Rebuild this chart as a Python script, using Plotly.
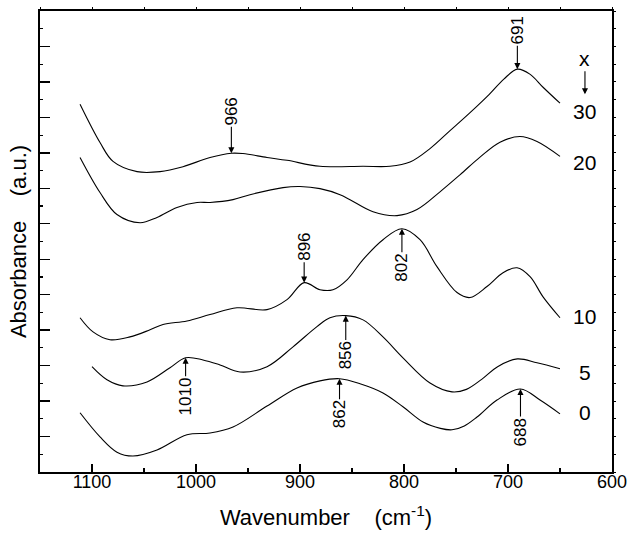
import plotly.graph_objects as go

# ---- data (wavenumber cm-1, absorbance a.u. offset) ----
wn_30 = [1111.5, 1092.3, 1079.8, 1056.7, 1034.6, 1012.5, 986.5, 966.0, 954.8, 931.7,
         912.5, 880.8, 839.4, 813.5, 794.2, 775.0, 756.0, 737.0, 718.0, 704.0,
         691.0, 679.0, 666.3, 650.0]
abs_30 = [10.37, 9.29, 8.76, 8.47, 8.47, 8.61, 8.87, 8.99, 8.98, 8.87,
          8.79, 8.62, 8.62, 8.62, 8.74, 9.12, 9.62, 10.12, 10.65, 11.08,
          11.36, 11.22, 10.85, 10.40]

wn_20 = [1111.5, 1092.3, 1076.0, 1053.8, 1037.5, 1018.3, 999.0, 986.5, 964.4, 948.1,
         916.3, 900.0, 880.8, 861.5, 851.9, 829.8, 806.7, 787.5, 765.4, 746.2,
         726.9, 707.7, 688.5, 672.1, 650.0]
abs_20 = [8.87, 7.88, 7.26, 7.03, 7.18, 7.46, 7.60, 7.60, 7.68, 7.82,
          8.02, 8.05, 7.99, 7.82, 7.68, 7.34, 7.23, 7.40, 7.90, 8.38,
          8.88, 9.30, 9.46, 9.32, 8.90]

wn_10 = [1111.5, 1099.0, 1082.7, 1063.5, 1044.2, 1031.7, 1008.7, 986.5, 960.6, 931.7,
         912.5, 896.0, 880.8, 868.3, 854.8, 839.4, 820.2, 802.0, 784.6, 768.3,
         749.0, 736.5, 720.2, 704.8, 691.3, 678.8, 666.3, 650.0]
abs_10 = [4.35, 3.95, 3.73, 3.81, 4.01, 4.16, 4.26, 4.44, 4.63, 4.58,
          4.86, 5.34, 5.14, 5.14, 5.42, 5.99, 6.55, 6.86, 6.55, 5.79,
          5.06, 4.92, 5.23, 5.62, 5.76, 5.51, 4.94, 4.35]

wn_5 = [1100.0, 1085.6, 1070.2, 1047.1, 1025.0, 1010.0, 993.3, 976.9, 957.7, 931.7,
        906.7, 883.7, 871.2, 856.0, 839.4, 820.2, 801.0, 775.0, 753.8, 740.0,
        725.0, 710.0, 691.0, 672.1, 650.0]
abs_5 = [2.97, 2.60, 2.43, 2.54, 2.94, 3.22, 3.16, 3.02, 2.82, 2.97,
         3.53, 4.10, 4.35, 4.41, 4.29, 3.81, 3.22, 2.51, 2.26, 2.33,
         2.62, 2.97, 3.19, 3.08, 2.91]

wn_0 = [1111.5, 1092.3, 1076.0, 1060.6, 1037.5, 1008.7, 986.5, 964.4, 931.7, 902.9,
        880.8, 862.0, 842.3, 820.2, 801.0, 781.7, 765.0, 753.8, 742.0, 729.8,
        710.6, 688.0, 669.2, 650.0]
abs_0 = [1.67, 0.99, 0.56, 0.45, 0.62, 1.05, 1.10, 1.27, 1.86, 2.37,
         2.57, 2.63, 2.49, 2.23, 1.84, 1.41, 1.23, 1.19, 1.30, 1.55,
         2.03, 2.34, 2.03, 1.64]

series_labels = ["30", "20", "10", "5", "0"]
label_y = [10.17, 8.73, 4.38, 2.82, 1.67]
label_x = 626

# peak annotations: label, wavenumber, absorbance, pixel offset of the text
peak_labels = ["966", "691", "896", "802", "1010", "856", "862", "688"]
peak_x = [966, 691, 896, 802, 1010, 856, 862, 688]
peak_y = [8.99, 11.36, 5.34, 6.86, 3.22, 4.41, 2.63, 2.34]
peak_ay = [-42, -39, -36, 39, 39, 40, 36, 43]

FONT = "Liberation Sans, Arial, Helvetica, sans-serif"

fig = go.Figure()
for wn, ab, name in [(wn_30, abs_30, "30"), (wn_20, abs_20, "20"), (wn_10, abs_10, "10"),
                     (wn_5, abs_5, "5"), (wn_0, abs_0, "0")]:
    fig.add_trace(go.Scatter(x=wn, y=ab, mode="lines", name=name,
                             line=dict(color="black", width=1.1, shape="spline", smoothing=1.0),
                             showlegend=False, hoverinfo="skip"))

# dummy trace so that the mirrored top/right tick axes get drawn
fig.add_trace(go.Scatter(x=[None], y=[None], xaxis="x2", yaxis="y2",
                         showlegend=False, hoverinfo="skip"))

annotations = []
for t, x, y, ay in zip(peak_labels, peak_x, peak_y, peak_ay):
    annotations.append(dict(x=x, y=y, xref="x", yref="y", text=t, textangle=-90,
                            showarrow=True, arrowhead=2, arrowsize=1.1, arrowwidth=1.1,
                            arrowcolor="black", ax=0, ay=ay, standoff=0,
                            font=dict(family=FONT, size=17, color="black")))
for t, y in zip(series_labels, label_y):
    annotations.append(dict(x=label_x, y=y, xref="x", yref="y", text=t, showarrow=False,
                            font=dict(family=FONT, size=21, color="black")))
annotations.append(dict(x=label_x, y=10.65, xref="x", yref="y", text="x",
                        showarrow=True, arrowhead=2, arrowsize=1.1, arrowwidth=1.1,
                        arrowcolor="black", ax=0, ay=-36,
                        font=dict(family=FONT, size=21, color="black")))

sp = "\u00a0\u00a0\u00a0\u00a0"
fig.update_layout(
    width=628, height=534,
    margin=dict(l=40, r=16, t=11, b=62, autoexpand=False),
    paper_bgcolor="white", plot_bgcolor="white",
    font=dict(family=FONT, color="black"),
    annotations=annotations,
    xaxis=dict(range=[1150, 600], tick0=600, dtick=100, ticks="inside", ticklen=8,
               tickwidth=1.3, tickcolor="black", showgrid=False, zeroline=False,
               showline=True, linecolor="black", linewidth=1.6, mirror=True,
               automargin=False,
               tickfont=dict(family=FONT, size=18, color="black"),
               minor=dict(dtick=50, tick0=600, ticks="inside", ticklen=4, tickwidth=1.1,
                          tickcolor="black", showgrid=False),
               title=dict(text="Wavenumber" + sp + "(cm<sup>-1</sup>)", standoff=18,
                          font=dict(family=FONT, size=22, color="black"))),
    yaxis=dict(range=[0, 13], tick0=0, dtick=1, ticks="inside", ticklen=10,
               tickwidth=1.3, tickcolor="black", showgrid=False, zeroline=False,
               showline=True, linecolor="black", linewidth=1.6, mirror=True,
               showticklabels=False, automargin=False,
               minor=dict(dtick=0.5, tick0=0, ticks="inside", ticklen=3, tickwidth=1.1,
                          tickcolor="black", showgrid=False),
               title=dict(text="Absorbance" + sp + "(a.u.)", standoff=6,
                          font=dict(family=FONT, size=22, color="black"))),
    xaxis2=dict(overlaying="x", side="top", range=[1150, 600], tick0=600, dtick=50,
                ticks="outside", ticklen=3, tickwidth=1, tickcolor="black", automargin=False,
                showticklabels=False, showgrid=False, zeroline=False, showline=False),
    yaxis2=dict(overlaying="y", side="right", range=[0, 13], tick0=0, dtick=0.5,
                ticks="outside", ticklen=3, tickwidth=1, tickcolor="black", automargin=False,
                showticklabels=False, showgrid=False, zeroline=False, showline=False),
)
try:
    fig.layout.xaxis.ticklabelstandoff = -7
except Exception:
    pass

# remove the browser's default 8px body margin so the figure fills the window
fig.write_html("out.html",
               config={"displayModeBar": False, "staticPlot": True},
               post_script="document.body.style.margin='0';"
                           "document.body.style.overflow='hidden';")
